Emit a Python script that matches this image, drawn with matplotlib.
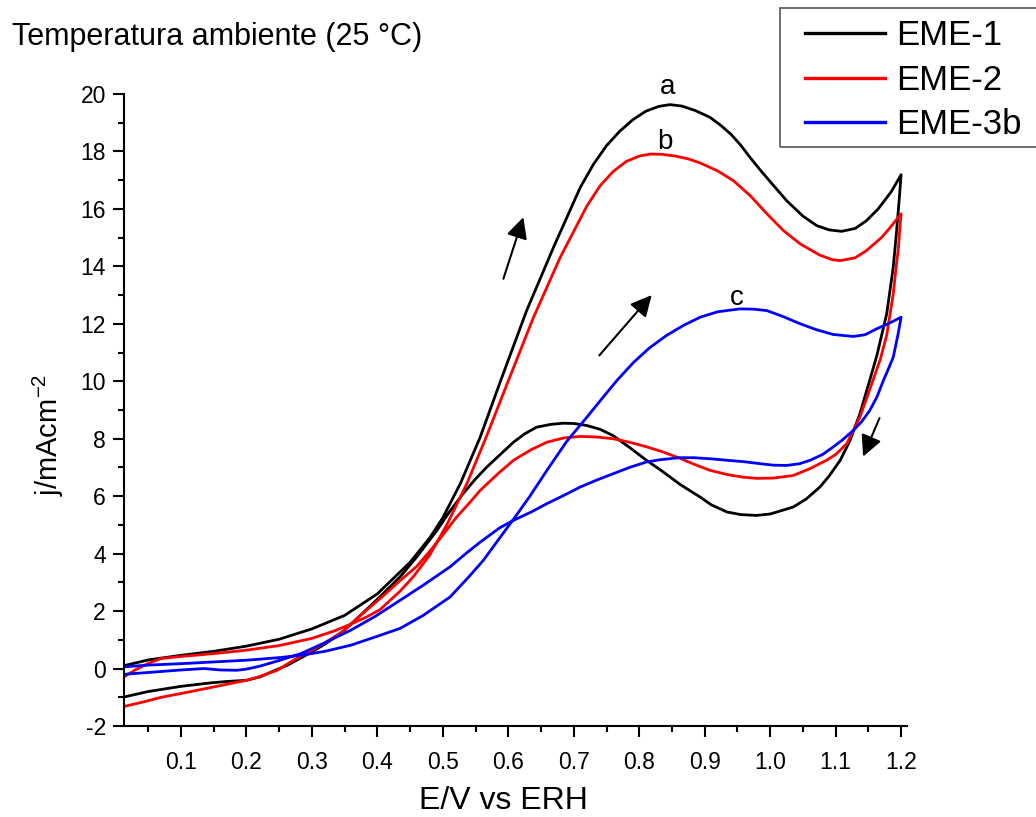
import matplotlib
matplotlib.use("Agg")
import matplotlib.pyplot as plt
from matplotlib.ticker import MultipleLocator, FormatStrFormatter
from matplotlib.patches import Rectangle

plt.rcParams['font.family'] = ['Liberation Sans', 'DejaVu Sans']
plt.rcParams['mathtext.default'] = 'regular'
plt.rcParams['axes.unicode_minus'] = False

# EME-1, anodic (forward) and cathodic (backward) scan
eme1_fwd_x = [0.013, 0.05, 0.1, 0.15, 0.2, 0.25, 0.3, 0.35, 0.4, 0.45, 0.48, 0.5, 0.527, 0.557,
              0.588, 0.628, 0.669, 0.71, 0.73, 0.75, 0.77, 0.79, 0.81, 0.83, 0.847, 0.865, 0.885,
              0.908, 0.925, 0.94, 0.955, 0.969, 0.985, 1.0, 1.025, 1.05, 1.071, 1.09, 1.109,
              1.13, 1.147, 1.165, 1.185, 1.2]
eme1_fwd_y = [0.1, 0.3, 0.46, 0.6, 0.78, 1.02, 1.38, 1.85, 2.6, 3.7, 4.55, 5.25, 6.45, 8.05,
              10.0, 12.46, 14.66, 16.75, 17.55, 18.2, 18.7, 19.1, 19.4, 19.57, 19.63, 19.58, 19.43,
              19.19, 18.9, 18.6, 18.22, 17.8, 17.35, 16.95, 16.29, 15.75, 15.42, 15.27, 15.22,
              15.32, 15.59, 16.0, 16.6, 17.19]
eme1_bwd_x = [1.2, 1.197, 1.193, 1.188, 1.178, 1.163, 1.152, 1.137, 1.122, 1.107, 1.09, 1.076,
              1.055, 1.035, 1.0, 0.979, 0.955, 0.934, 0.91, 0.893, 0.863, 0.832, 0.811, 0.785,
              0.76, 0.74, 0.72, 0.7, 0.684, 0.665, 0.643, 0.625, 0.608, 0.59, 0.567, 0.55, 0.531,
              0.51, 0.491, 0.46, 0.435, 0.404, 0.374, 0.348, 0.32, 0.3, 0.28, 0.262, 0.24, 0.221,
              0.2, 0.17, 0.145, 0.1, 0.05, 0.013]
eme1_bwd_y = [17.19, 16.3, 15.2, 13.97, 12.35, 10.9, 10.03, 8.87, 7.94, 7.25, 6.7, 6.32,
              5.9, 5.62, 5.38, 5.33, 5.36, 5.45, 5.7, 5.97, 6.4, 6.92, 7.25, 7.7,
              8.11, 8.33, 8.46, 8.53, 8.54, 8.5, 8.4, 8.17, 7.88, 7.5, 7.01, 6.6, 6.09,
              5.45, 4.81, 3.88, 3.2, 2.5, 1.85, 1.3, 0.85, 0.58, 0.33, 0.11, -0.1, -0.29,
              -0.41, -0.45, -0.5, -0.62, -0.8, -0.99]

# EME-2
eme2_fwd_x = [0.013, 0.03, 0.05, 0.07, 0.1, 0.15, 0.2, 0.25, 0.3, 0.333, 0.36, 0.384, 0.404,
              0.435, 0.455, 0.48, 0.506, 0.537, 0.567, 0.598, 0.638, 0.679, 0.72, 0.74, 0.76,
              0.78, 0.8, 0.817, 0.835, 0.855, 0.875, 0.893, 0.92, 0.944, 0.97, 0.995, 1.02, 1.046,
              1.075, 1.095, 1.107, 1.13, 1.147, 1.17, 1.185, 1.2]
eme2_fwd_y = [-0.29, -0.05, 0.18, 0.35, 0.42, 0.52, 0.64, 0.8, 1.05, 1.3, 1.55, 1.8, 2.05,
              2.7, 3.2, 3.95, 5.0, 6.45, 8.1, 9.9, 12.2, 14.3, 16.1, 16.8, 17.3,
              17.65, 17.84, 17.91, 17.9, 17.84, 17.74, 17.6, 17.32, 16.98, 16.45, 15.83, 15.25, 14.78,
              14.4, 14.23, 14.2, 14.3, 14.55, 15.0, 15.4, 15.83]
eme2_bwd_x = [1.2, 1.198, 1.196, 1.192, 1.188, 1.178, 1.168, 1.157, 1.137, 1.117, 1.1, 1.086,
              1.06, 1.035, 1.005, 0.98, 0.959, 0.935, 0.908, 0.885, 0.862, 0.835, 0.811, 0.785,
              0.76, 0.735, 0.71, 0.685, 0.659, 0.635, 0.608, 0.585, 0.557, 0.54, 0.521, 0.5,
              0.481, 0.46, 0.435, 0.404, 0.374, 0.348, 0.32, 0.3, 0.272, 0.247, 0.22, 0.2,
              0.15, 0.1, 0.07, 0.043, 0.013]
eme2_bwd_y = [15.83, 15.3, 14.67, 13.9, 13.04, 11.6, 10.75, 10.03, 8.75, 7.83, 7.45, 7.25,
              6.95, 6.72, 6.63, 6.62, 6.66, 6.75, 6.9, 7.1, 7.32, 7.55, 7.72, 7.88,
              8.0, 8.06, 8.08, 8.03, 7.88, 7.62, 7.25, 6.8, 6.2, 5.75, 5.27, 4.65,
              4.11, 3.55, 3.07, 2.43, 1.85, 1.3, 0.9, 0.64, 0.29, -0.06, -0.28, -0.41,
              -0.64, -0.87, -1.0, -1.16, -1.32]

# EME-3b
eme3_fwd_x = [0.013, 0.05, 0.1, 0.15, 0.2, 0.25, 0.283, 0.32, 0.359, 0.397, 0.435, 0.47, 0.511,
              0.54, 0.562, 0.587, 0.608, 0.633, 0.659, 0.689, 0.72, 0.745, 0.766, 0.791, 0.815,
              0.842, 0.868, 0.893, 0.92, 0.954, 0.975, 0.995, 1.02, 1.046, 1.07, 1.096, 1.127,
              1.145, 1.163, 1.18, 1.2]
eme3_fwd_y = [0.06, 0.12, 0.17, 0.23, 0.29, 0.38, 0.46, 0.6, 0.81, 1.1, 1.4, 1.85, 2.49,
              3.2, 3.77, 4.55, 5.2, 6.0, 6.9, 7.9, 8.75, 9.45, 10.03, 10.65, 11.15,
              11.6, 11.95, 12.23, 12.42, 12.52, 12.51, 12.46, 12.25, 12.0, 11.8, 11.63, 11.56,
              11.62, 11.83, 12.0, 12.23]
eme3_bwd_x = [1.2, 1.195, 1.188, 1.18, 1.173, 1.163, 1.152, 1.14, 1.127, 1.11, 1.096, 1.08,
              1.061, 1.045, 1.025, 1.005, 0.985, 0.96, 0.934, 0.91, 0.883, 0.862, 0.832, 0.811,
              0.785, 0.76, 0.735, 0.71, 0.685, 0.659, 0.635, 0.608, 0.587, 0.557, 0.535, 0.511,
              0.47, 0.435, 0.397, 0.359, 0.32, 0.283, 0.25, 0.22, 0.2, 0.185, 0.16, 0.135,
              0.1, 0.06, 0.013]
eme3_bwd_y = [12.23, 11.6, 10.84, 10.4, 10.03, 9.45, 8.98, 8.6, 8.29, 7.95, 7.71, 7.45,
              7.25, 7.13, 7.07, 7.08, 7.13, 7.2, 7.25, 7.3, 7.34, 7.34, 7.27, 7.19,
              7.0, 6.78, 6.56, 6.32, 6.03, 5.74, 5.45, 5.16, 4.9, 4.4, 4.0, 3.54,
              2.9, 2.38, 1.82, 1.33, 0.9, 0.52, 0.28, 0.08, -0.02, -0.06, -0.05, 0.0,
              -0.05, -0.12, -0.2]

labels = ["EME-1", "EME-2", "EME-3b"]
colors = ["black", "#ff0000", "#0000ff"]

# peak letters and scan-direction arrows (data coords)
peak_text = ["a", "b", "c"]
peak_xy = [(0.844, 20.0), (0.839, 18.09), (0.949, 12.64)]
arrow_tail = [(0.5925, 13.57), (0.739, 10.9), (1.167, 8.72)]
arrow_tip = [(0.623, 15.71), (0.819, 13.0), (1.142, 7.38)]

fig = plt.figure(figsize=(10.36, 8.17), dpi=100)
ax = fig.add_axes([124 / 1036, 1 - 726 / 817, 783 / 1036, 632 / 817])

curves = [(eme1_fwd_x + eme1_bwd_x, eme1_fwd_y + eme1_bwd_y),
          (eme2_fwd_x + eme2_bwd_x, eme2_fwd_y + eme2_bwd_y),
          (eme3_fwd_x + eme3_bwd_x, eme3_fwd_y + eme3_bwd_y)]
lines = []
for (xs, ys), c, lab in zip(curves, colors, labels):
    ln, = ax.plot(xs, ys, color=c, lw=2.0, label=lab, solid_joinstyle='round')
    lines.append(ln)

for t, (x, y) in zip(peak_text, peak_xy):
    ax.text(x, y, t, fontsize=20, ha='center', va='baseline', clip_on=False)

for tail, tip in zip(arrow_tail, arrow_tip):
    ax.annotate('', xy=tip, xytext=tail,
                arrowprops=dict(arrowstyle='-|>', color='black', lw=1.5,
                                mutation_scale=32, shrinkA=0, shrinkB=0))

ax.set_xlim(0.013, 1.209)
ax.set_ylim(-2, 20)
ax.xaxis.set_major_locator(MultipleLocator(0.1))
ax.xaxis.set_minor_locator(MultipleLocator(0.05))
ax.xaxis.set_major_formatter(FormatStrFormatter('%.1f'))
ax.yaxis.set_major_locator(MultipleLocator(2))
ax.yaxis.set_minor_locator(MultipleLocator(1))

for s in ['top', 'right']:
    ax.spines[s].set_visible(False)
for s in ['left', 'bottom']:
    ax.spines[s].set_linewidth(1.5)

ax.tick_params(which='major', direction='out', length=8, width=1.5, labelsize=16.5)
ax.tick_params(which='minor', direction='out', length=4.5, width=1.5)
ax.tick_params(axis='x', which='major', pad=10)
ax.tick_params(axis='y', which='major', pad=5)

ax.set_xlabel('E/V vs ERH', fontsize=23)
ax.xaxis.set_label_coords((503 - 124) / 783, -0.095)
ax.set_ylabel(r'j/mAcm$^{-2}$', fontsize=21)
ax.yaxis.set_label_coords(-0.074, 0.46)

fig.text(12 / 1036, 1 - 45 / 817, 'Temperatura ambiente (25 °C)', fontsize=22, va='baseline')

leg = fig.legend(lines, labels, loc='upper left', bbox_to_anchor=(788 / 1036, 1 - 2 / 817),
                 frameon=False, fontsize=25, borderpad=0, labelspacing=0.33,
                 handlelength=2.3, handletextpad=0.3)
for h in leg.get_lines():
    h.set_linewidth(2.4)
fig.patches.append(Rectangle((780 / 1036, 1 - 147 / 817), 270 / 1036, 139 / 817,
                             transform=fig.transFigure, fill=False,
                             edgecolor='#555555', lw=1.2))

fig.savefig('out.png', dpi=100)
